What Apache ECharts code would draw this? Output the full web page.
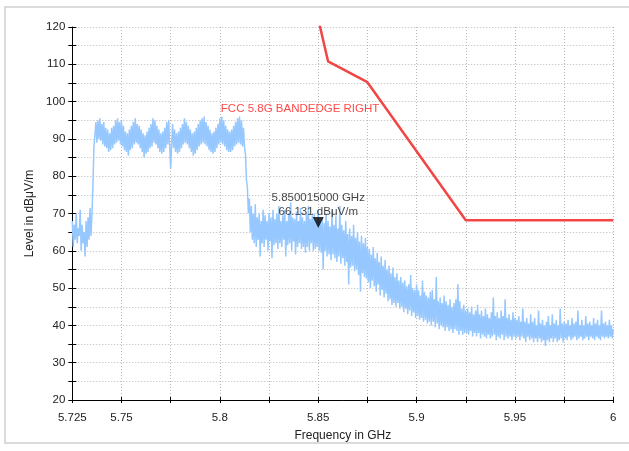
<!DOCTYPE html>
<html><head><meta charset="utf-8">
<script src="https://cdn.jsdelivr.net/npm/echarts@6/dist/echarts.min.js"></script>
<style>html,body{margin:0;padding:0;background:#fff}#c{width:629px;height:451px}</style>
</head><body><div id="c"></div>
<script>
// Spectrum trace: analyzer sweep from 5.725 GHz, one reading every 0.5 MHz
const freqStart = 5.725;
const freqStep = 0.0005;
const traceLevels = [
68, 61, 67, 63, 70, 62, 66, 64, 71, 60,
67, 62, 65, 58.5, 68, 61, 69, 63, 71.5, 64,
70, 78, 88, 91, 94.5, 89, 95, 90, 95.5, 89.5,
94, 88.5, 94.5, 88, 93, 87.5, 92.5, 86.5, 91.5, 87,
93, 87.5, 93.5, 88.5, 95, 89, 95.5, 89.5, 94.5, 88.5,
95, 88, 93.5, 87, 92, 86.5, 91.5, 85.5, 92.5, 87,
93.5, 87.5, 94.5, 88.5, 95.5, 89, 94, 88.5, 93.5, 87.5,
92.5, 86.5, 91.5, 85, 91, 86, 92, 86.5, 93, 87.5,
94, 88, 95.5, 89, 95, 88.5, 93.5, 87.5, 92.5, 86.5,
91.5, 86, 92, 86.5, 93, 87.5, 94.5, 88.5, 95, 88,
82, 88.5, 94, 87.5, 92.5, 86.5, 91.5, 86, 92, 86.5,
93, 87.5, 94, 88.5, 95.5, 89, 94.5, 88.5, 93.5, 87.5,
92.5, 86.5, 91.5, 85.5, 92, 86, 93, 87, 94, 88,
95, 88.5, 95.5, 89, 96, 88.5, 94.5, 88, 93.5, 87,
92.5, 86.5, 91.5, 86, 92, 86.5, 93, 87.5, 94, 88.5,
95.5, 89, 96, 88.5, 95, 88, 93.5, 87, 92.5, 86.5,
92, 86.5, 92.5, 87, 93.5, 88, 94.5, 88.5, 95.5, 89,
96, 88.5, 95, 88, 93, 88, 86, 79, 77, 70,
74, 65, 72, 63, 70, 62, 72.5, 61, 69, 63,
70, 58.5, 68, 62, 71, 61, 69.5, 63, 68, 60,
70, 62.5, 69, 58, 71, 61.5, 68.5, 62, 70, 60.5,
72, 62, 68, 61, 69.5, 63, 71, 58.5, 68, 61.5,
70, 62, 73, 60, 69, 62.5, 68.5, 59, 70.5, 61,
68, 62, 71.5, 60.5, 69, 61, 68, 59.5, 70, 61,
72, 60, 68.5, 62, 69.5, 60, 70, 60.5, 68, 61,
71, 60, 68, 59.5, 69, 55, 67.5, 60, 70, 58.5,
68, 59, 66.5, 57.5, 71, 59, 67, 58, 69.5, 57,
66, 58.5, 72, 56.5, 67, 58, 65.5, 56, 68, 57,
64.5, 51, 66, 55.5, 64, 56, 67, 54.5, 63.5, 55,
65, 53.5, 62.5, 49, 64, 54, 62, 53, 63.5, 52.5,
61, 51.5, 60.5, 50, 59, 52, 61, 50.5, 58, 49,
59.5, 51, 57, 48, 58.5, 49.5, 56, 47.5, 57.5, 48.5,
55, 46.5, 56, 47, 54, 45.5, 55.5, 46, 53, 45,
54, 46, 52, 44.5, 53, 45, 51.5, 43.5, 52, 44.5,
50.5, 43, 51, 44, 53.5, 42.5, 50, 43.5, 49.5, 42,
51, 42.5, 49.5, 41.5, 48, 42, 52, 41, 49, 41.5,
48, 40.5, 47.5, 41, 49, 40, 49.5, 41, 47, 39.5,
53, 40.5, 46.5, 39, 47.5, 40, 46, 39.5, 48, 38.5,
46.5, 39.5, 45.5, 38.5, 47, 39, 45, 38, 46, 39,
47, 38.5, 51, 37.5, 46.5, 38.5, 44.5, 37.5, 45.5, 38,
44, 38, 44.5, 37.5, 43.5, 38.5, 45, 37, 43, 38,
44, 37, 45.5, 38, 43, 36.5, 44, 37.5, 42.5, 37,
44.5, 36.5, 43, 37.5, 42, 36.5, 43.5, 37, 47.5, 37.5,
42.5, 36, 43.5, 37, 42, 36.5, 44, 37.5, 42.5, 36,
47, 37, 42, 36.5, 43, 37, 41.5, 36, 43.5, 37,
42, 36.5, 41.5, 37, 42.5, 36, 41, 37, 44.5, 36.5,
41, 35.5, 42, 37, 40.5, 36, 43, 36.5, 41, 35.5,
42, 36.5, 40, 35.5, 44, 36.5, 40.5, 35.5, 41.5, 36,
40, 34.5, 41, 36, 42.5, 35.5, 40, 36.5, 43, 35.5,
40.5, 36.5, 41.5, 35.5, 40, 36, 44.5, 36.5, 40.5, 35.5,
41, 36.5, 40.5, 36, 41.5, 37, 40, 36, 42, 36.5,
40.5, 37, 41, 36, 44, 36.5, 40, 37, 41.5, 36,
40, 36.5, 42.5, 37, 40.5, 36, 41, 37, 40, 36.5,
42, 36, 40.5, 37, 41.5, 36.5, 40, 36, 44, 37,
40.5, 36.5, 41, 37, 40, 36.5, 41.5, 37, 40, 36.5,
39
];

// Limit line
const limitName = 'FCC 5.8G BANDEDGE RIGHT';
const limitFreq = [5.85, 5.855, 5.875, 5.925, 6.0];
const limitLevel = [122.2, 110.8, 105.2, 68.2, 68.2];

// Marker
const markerFreq = 5.850015;
const markerLevel = 66.131;
const markerLines = ['5.850015000 GHz', '66.131 dBμV/m'];

// Axes
const xMin = 5.725, xMax = 6, xInterval = 0.025;
const yMin = 20, yMax = 120, yInterval = 5;
const xTitle = 'Frequency in GHz';
const yTitle = 'Level in dBμV/m';

const FONT = '"Liberation Sans", Arial, Helvetica, sans-serif';

const traceData = traceLevels.map((v, i) => [+(freqStart + i * freqStep).toFixed(4), v]);
const limitData = limitFreq.map((f, i) => [f, limitLevel[i]]);

function fmtX(v) {
  const r = Math.round(v * 1000) / 1000;
  const isMin = Math.abs(r - xMin) < 1e-6;
  const mult = Math.abs(r * 20 - Math.round(r * 20)) < 1e-6;
  return (isMin || mult) ? String(r) : '';
}
function fmtY(v) {
  const r = Math.round(v);
  return r % 10 === 0 ? String(r) : '';
}

const chart = echarts.init(document.getElementById('c'), null, {renderer: 'canvas'});
const axisColor = '#000';
const labelColor = '#222';
const frame = {
  type: 'rect', silent: true, z: 100,
  shape: {x: 5, y: 7, width: 640, height: 436},
  style: {fill: 'none', stroke: '#cfcfcf', lineWidth: 1.5}
};
chart.setOption({
  animation: false,
  backgroundColor: '#fff',
  grid: {left: 72.3, right: 15.7, top: 27, bottom: 51, containLabel: false, outerBoundsMode: 'none'},
  xAxis: [{
    type: 'value', min: xMin, max: xMax, interval: xInterval, position: 'bottom',
    axisLine: {show: true, onZero: false, lineStyle: {color: axisColor, width: 1}},
    axisTick: {show: true, length: 3, lineStyle: {color: axisColor, width: 1}},
    axisLabel: {show: true, margin: 12, color: labelColor, fontSize: 11.5, fontFamily: FONT, formatter: fmtX, hideOverlap: false},
    splitLine: {show: true, lineStyle: {color: '#b8b8b8', width: 1, type: [1, 2]}},
    name: xTitle, nameLocation: 'middle', nameGap: 30,
    nameTextStyle: {color: labelColor, fontSize: 12, fontFamily: FONT}
  }, {
    type: 'value', min: xMin, max: xMax, interval: xInterval, position: 'bottom',
    axisLine: {show: false},
    axisTick: {show: true, inside: true, length: 3, lineStyle: {color: axisColor, width: 1}},
    axisLabel: {show: false}, splitLine: {show: false}
  }],
  yAxis: [{
    type: 'value', min: yMin, max: yMax, interval: yInterval, position: 'left',
    axisLine: {show: true, onZero: false, lineStyle: {color: axisColor, width: 1}},
    axisTick: {show: true, length: 4, lineStyle: {color: axisColor, width: 1}},
    axisLabel: {show: true, margin: 7, color: labelColor, fontSize: 11.5, fontFamily: FONT, formatter: fmtY, hideOverlap: false},
    splitLine: {show: true, lineStyle: {color: '#b8b8b8', width: 1, type: [1, 2]}},
    name: yTitle, nameLocation: 'middle', nameGap: 27,
    nameTextStyle: {color: labelColor, fontSize: 12, fontFamily: FONT}
  }, {
    type: 'value', min: yMin, max: yMax, interval: yInterval, position: 'left',
    axisLine: {show: false},
    axisTick: {show: true, inside: true, length: 4, lineStyle: {color: axisColor, width: 1}},
    axisLabel: {show: false}, splitLine: {show: false}
  }],
  series: [{
    name: 'Trace', type: 'line', data: traceData, xAxisIndex: 0, yAxisIndex: 0,
    symbol: 'none', showSymbol: false, sampling: null, z: 2,
    lineStyle: {color: '#96c8ff', width: 1.5}, emphasis: {disabled: true}
  }, {
    name: limitName, type: 'line', data: limitData, xAxisIndex: 0, yAxisIndex: 0,
    symbol: 'none', showSymbol: false, clip: true, z: 3,
    lineStyle: {color: '#f24646', width: 2.5}, emphasis: {disabled: true}
  }, {
    name: 'Marker', type: 'scatter', data: [[markerFreq, markerLevel]], xAxisIndex: 0, yAxisIndex: 0,
    symbol: 'triangle', symbolRotate: 180, symbolSize: [11, 11], symbolOffset: [0, '-50%'], z: 5,
    itemStyle: {color: '#000'},
    label: {show: true, position: 'top', distance: -2, color: '#111', fontSize: 11.5, fontFamily: FONT,
      lineHeight: 14, align: 'center', formatter: markerLines.join('\n')},
    emphasis: {disabled: true}
  }],
  graphic: [frame]
});

// Limit line caption, anchored in data space
const capPos = chart.convertToPixel({xAxisIndex: 0, yAxisIndex: 0}, [5.8005, 98]);
chart.setOption({graphic: [frame, {
  type: 'text', silent: true, z: 50, x: capPos[0], y: capPos[1],
  style: {text: limitName, fill: '#ff4a4a', font: '11.5px ' + FONT, textAlign: 'left', textVerticalAlign: 'middle'}
}]});
</script>
</body></html>
